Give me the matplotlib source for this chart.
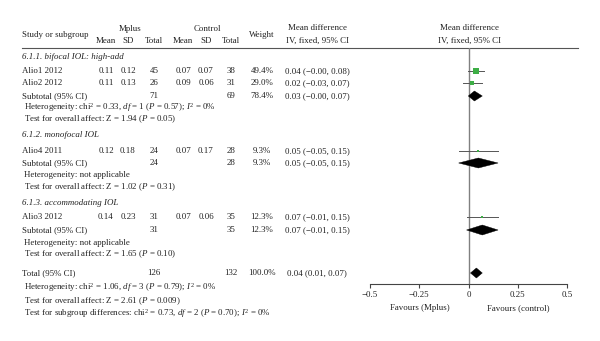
import matplotlib

matplotlib.use("Agg")
import matplotlib.pyplot as plt
from matplotlib.patches import Polygon

plt.rcParams["font.family"] = ["Liberation Serif", "DejaVu Serif"]
plt.rcParams["mathtext.fontset"] = "custom"
plt.rcParams["mathtext.rm"] = "Liberation Serif"
plt.rcParams["mathtext.it"] = "Liberation Serif:italic"

# study data
studies = ["Alio1 2012", "Alio2 2012", "Alio4 2011", "Alio3 2012"]
mplus_mean = [0.11, 0.11, 0.12, 0.14]
mplus_sd = [0.12, 0.13, 0.18, 0.23]
mplus_n = [45, 26, 24, 31]
ctrl_mean = [0.07, 0.09, 0.07, 0.07]
ctrl_sd = [0.07, 0.06, 0.17, 0.06]
ctrl_n = [38, 31, 28, 35]
weights = [49.4, 29.0, 9.3, 12.3]
md = [0.04, 0.02, 0.05, 0.07]
md_lo = [-0.001, -0.03, -0.05, -0.01]
md_hi = [0.08, 0.07, 0.15, 0.15]

# subgroup data
groups = ["6.1.1. bifocal IOL: high-add", "6.1.2. monofocal IOL", "6.1.3. accommodating IOL"]
sub_mplus_n = [71, 24, 31]
sub_ctrl_n = [69, 28, 35]
sub_weight = [78.4, 9.3, 12.3]
sub_md = [0.03, 0.05, 0.07]
sub_lo = [-0.001, -0.05, -0.01]
sub_hi = [0.07, 0.15, 0.15]
sub_het = [
    r"Heterogeneity: chi$^2$ = 0.33, $df$ = 1 ($P$ = 0.57); $I^2$ = 0%",
    "Heterogeneity: not applicable",
    "Heterogeneity: not applicable",
]
sub_test = [
    r"Test for overall affect: Z = 1.94 ($P$ = 0.05)",
    r"Test for overall affect: Z = 1.02 ($P$ = 0.31)",
    r"Test for overall affect: Z = 1.65 ($P$ = 0.10)",
]

total_mplus_n = 126
total_ctrl_n = 132
total_md, total_lo, total_hi = 0.04, 0.01, 0.07
total_notes = [
    r"Heterogeneity: chi$^2$ = 1.06, $df$ = 3 ($P$ = 0.79); $I^2$ = 0%",
    r"Test for overall affect: Z = 2.61 ($P$ = 0.009)",
    r"Test for subgroup differences: chi$^2$ = 0.73, $df$ = 2 ($P$ = 0.70); $I^2$ = 0%",
]

xticks = [-0.5, -0.25, 0, 0.25, 0.5]
xtick_labels = ["\u22120.5", "\u22120.25", "0", "0.25", "0.5"]

# layout (pixel rows)
group_y = [57, 135, 203]
study_y = [71, 83, 151, 217]
sub_y = [96, 163, 230]
het_y = [108, 175, 243]
test_y = [119, 187, 254]
total_y = 273
notes_y = [288, 301, 313]

COL_X = {"mm": 106, "msd": 128, "mn": 154, "cm": 183, "csd": 206, "cn": 231, "w": 262, "ci": 317}
FS = 6.4
TXT = "#222222"
GREEN = "#3dae45"


def fmt(v):
    # two decimals, typographic minus (keeps "-0.00")
    return f"{v:.2f}".replace("-", "\u2212")


def ci_text(m, lo, hi):
    return f"{fmt(m)} ({fmt(lo)}, {fmt(hi)})"


fig = plt.figure(figsize=(6.0, 3.41), dpi=100)
ax = fig.add_axes([0, 0, 1, 1])
ax.set_xlim(0, 600)
ax.set_ylim(341, 0)
ax.axis("off")


def put(x, y, s, ha="center", **kw):
    ax.text(x, y, s, ha=ha, va="center", fontsize=FS, color=TXT, **kw)


# header
put(22, 35, "Study or subgroup", ha="left")
put(130, 29, "Mplus")
put(207, 29, "Control")
for key, lab in [("mm", "Mean"), ("msd", "SD"), ("mn", "Total"),
                 ("cm", "Mean"), ("csd", "SD"), ("cn", "Total")]:
    put(COL_X[key], 41, lab)
put(COL_X["w"], 35, "Weight")
put(COL_X["ci"], 28, "Mean difference")
put(COL_X["ci"], 41, "IV, fixed, 95% CI")
put(469, 28, "Mean difference")
put(469, 41, "IV, fixed, 95% CI")
ax.plot([22, 578], [47.5, 47.5], color="#555555", lw=0.8)

# table body
for g, name in enumerate(groups):
    put(22, group_y[g], name, ha="left", style="italic")
    put(22, sub_y[g], "Subtotal (95% CI)", ha="left")
    put(COL_X["mn"], sub_y[g], str(sub_mplus_n[g]))
    put(COL_X["cn"], sub_y[g], str(sub_ctrl_n[g]))
    put(COL_X["w"], sub_y[g], f"{sub_weight[g]:.1f}%")
    put(COL_X["ci"], sub_y[g], ci_text(sub_md[g], sub_lo[g], sub_hi[g]))
    put(24, het_y[g], sub_het[g], ha="left")
    put(24, test_y[g], sub_test[g], ha="left")

for i, name in enumerate(studies):
    y = study_y[i]
    put(22, y, name, ha="left")
    put(COL_X["mm"], y, f"{mplus_mean[i]:.2f}")
    put(COL_X["msd"], y, f"{mplus_sd[i]:.2f}")
    put(COL_X["mn"], y, str(mplus_n[i]))
    put(COL_X["cm"], y, f"{ctrl_mean[i]:.2f}")
    put(COL_X["csd"], y, f"{ctrl_sd[i]:.2f}")
    put(COL_X["cn"], y, str(ctrl_n[i]))
    put(COL_X["w"], y, f"{weights[i]:.1f}%")
    put(COL_X["ci"], y, ci_text(md[i], md_lo[i], md_hi[i]))

put(22, total_y, "Total (95% CI)", ha="left")
put(COL_X["mn"], total_y, str(total_mplus_n))
put(COL_X["cn"], total_y, str(total_ctrl_n))
put(COL_X["w"], total_y, "100.0%")
put(COL_X["ci"], total_y, ci_text(total_md, total_lo, total_hi))
for s, y in zip(total_notes, notes_y):
    put(24, y, s, ha="left")

# forest panel
fx0, fx1 = 370, 567
fy0, fy1 = 47.5, 284
fa = fig.add_axes([fx0 / 600, 1 - fy1 / 341, (fx1 - fx0) / 600, (fy1 - fy0) / 341])
fa.set_xlim(-0.5, 0.5)
fa.set_ylim(fy1, fy0)
fa.patch.set_alpha(0)
for sp in ["top", "left", "right"]:
    fa.spines[sp].set_visible(False)
fa.spines["bottom"].set_color("#444444")
fa.spines["bottom"].set_linewidth(0.8)
fa.set_yticks([])
fa.set_xticks(xticks)
fa.set_xticklabels(xtick_labels, fontsize=FS, color=TXT)
fa.tick_params(axis="x", length=3, width=0.8, color="#444444", pad=2)
fa.axvline(0, color="#808080", lw=1.0, zorder=1)

for i in range(len(studies)):
    y = study_y[i]
    fa.plot([md_lo[i], md_hi[i]], [y, y], color="#555555", lw=0.7, zorder=2)
    side = 1.5 + 0.11 * weights[i]
    fa.plot(md[i], y, marker="s", color=GREEN, markersize=side * 0.72,
            markeredgewidth=0, zorder=3)

half_h = 5.0
diamonds = list(zip(sub_md, sub_lo, sub_hi, sub_y)) + [(total_md, total_lo, total_hi, total_y)]
for m, lo, hi, y in diamonds:
    fa.add_patch(Polygon([(lo, y), (m, y - half_h), (hi, y), (m, y + half_h)],
                         closed=True, facecolor="black", edgecolor="black", lw=0.3, zorder=4))

ax.text(420, 308, "Favours (Mplus)", ha="center", va="center", fontsize=FS, color=TXT)
ax.text(518, 308, "Favours (control)", ha="center", va="center", fontsize=FS, color=TXT)

fig.savefig("out.png", dpi=100)
plt.close(fig)
